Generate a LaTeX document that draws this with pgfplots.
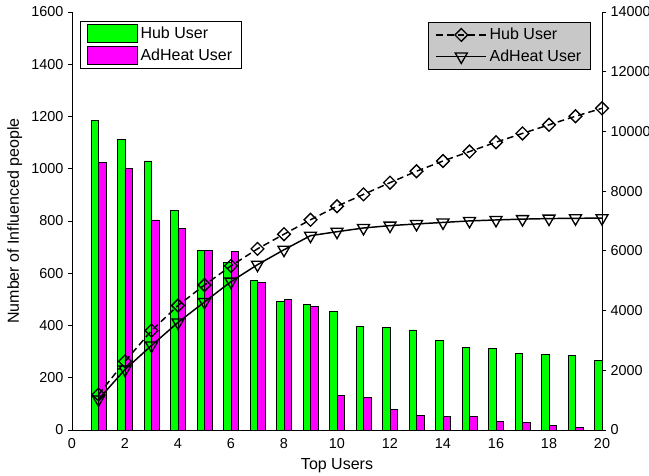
\documentclass[border=0pt]{standalone}
\usepackage{pgfplots}
\pgfplotsset{compat=1.18}
\usepackage{fontspec}
\setmainfont{Liberation Sans}
\setsansfont{Liberation Sans}
\definecolor{hubg}{RGB}{0,255,0}
\definecolor{adm}{RGB}{255,0,255}
\definecolor{leggray}{RGB}{200,200,200}
\begin{document}
\begin{tikzpicture}
\pgfplotsset{
  every axis/.append style={
    width=397.5pt, height=313.5pt, scale only axis,
    xmin=0, xmax=20,
    font=\fontsize{12}{14}\selectfont,
    tick label style={font=\fontsize{10.8}{12.5}\selectfont},
    /pgf/number format/assume math mode=true,
    /pgf/number format/1000 sep={},
    tick align=outside,
    major tick length=3pt,
    axis line style={-, line width=0.6pt},
    tick style={line width=0.6pt, black},
    scaled y ticks=false,
  }
}
\begin{axis}[
  axis y line*=left, axis x line*=bottom,
  ymin=0, ymax=1600, ytick={0,200,...,1600},
  xtick={0,2,...,20}, xtick style={draw=none},
  ylabel={Number of Influenced people},
  xlabel={Top Users},
  legend cell align=left,
  legend style={at={(0,1)}, anchor=north west, xshift=6pt, yshift=-6.5pt,
    draw=black, fill=white, line width=0.6pt, row sep=2pt, inner xsep=5pt, inner ysep=2.5pt,
    font=\fontsize{12}{14}\selectfont},
  legend image code/.code={\draw[#1, line width=0.6pt] (0pt,-6.75pt) rectangle (37.5pt,6.75pt);},
]
\addplot[ybar, bar width=0.28, bar shift=-0.14, fill=hubg, draw=black, line width=0.5pt] coordinates {
(1,1185) (2,1113) (3,1030) (4,842) (5,686) (6,640) (7,571) (8,491) (9,482) (10,454)
(11,397) (12,393) (13,383) (14,342) (15,317) (16,313) (17,294) (18,289) (19,287) (20,265)};
\addlegendentry{Hub User}
\addplot[ybar, bar width=0.28, bar shift=0.14, fill=adm, draw=black, line width=0.5pt] coordinates {
(1,1025) (2,1002) (3,804) (4,772) (5,686) (6,682) (7,566) (8,500) (9,472) (10,132)
(11,125) (12,79) (13,56) (14,51) (15,51) (16,32) (17,28) (18,18) (19,10) (20,4)};
\addlegendentry{AdHeat User}
\end{axis}
\begin{axis}[
  axis y line*=right, axis x line=none,
  ymin=0, ymax=14000, ytick={0,2000,...,14000},
  legend cell align=left,
  legend style={at={(1,1)}, anchor=north east, xshift=-8.25pt, yshift=-7.3pt,
    draw=black, fill=leggray, line width=0.6pt, row sep=2pt, inner xsep=5pt, inner ysep=2.5pt,
    font=\fontsize{12}{14}\selectfont},
  legend image code/.code={\draw[mark repeat=2,mark phase=2,#1] plot coordinates {(0pt,0pt) (18.75pt,0pt) (37.5pt,0pt)};},
]
\addplot[black, line width=1.1pt, dash pattern=on 5pt off 3pt, mark=diamond, mark size=4.8pt, mark options={solid, xscale=1.33, line width=1pt}] coordinates {
(1,1185) (2,2298) (3,3328) (4,4170) (5,4856) (6,5496) (7,6067) (8,6558) (9,7040) (10,7494)
(11,7891) (12,8284) (13,8667) (14,9009) (15,9326) (16,9639) (17,9933) (18,10222) (19,10509) (20,10774)};
\addlegendentry{Hub User}
\addplot[black, line width=1.1pt, mark=triangle, mark size=5.2pt, mark options={solid, rotate=180, line width=1pt}] coordinates {
(1,1025) (2,2027) (3,2831) (4,3603) (5,4289) (6,4971) (7,5537) (8,6037) (9,6509) (10,6641)
(11,6766) (12,6845) (13,6901) (14,6952) (15,7003) (16,7035) (17,7063) (18,7081) (19,7091) (20,7096)};
\addlegendentry{AdHeat User}
\coordinate (sw) at (rel axis cs:0,0);
\coordinate (ne) at (rel axis cs:1,1);
\end{axis}
\pgfresetboundingbox
\path[use as bounding box] ([xshift=-54pt,yshift=-33.75pt]sw) rectangle ([xshift=35.25pt,yshift=9pt]ne);
\end{tikzpicture}
\end{document}
